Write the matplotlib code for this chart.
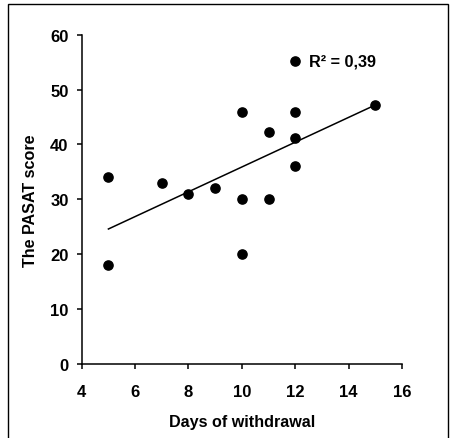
import numpy as np
import matplotlib
matplotlib.use('Agg')
import matplotlib.pyplot as plt
import matplotlib.patches as mpatches

plt.rcParams['font.family'] = ['Liberation Sans', 'DejaVu Sans']
plt.rcParams['font.weight'] = 'bold'

# Data
days = [5, 5, 7, 8, 9, 10, 10, 10, 11, 11, 12, 12, 12, 15]
pasat = [34.1, 18.0, 33.0, 31.0, 32.1, 46.0, 30.1, 20.0, 42.2, 30.1, 46.0, 41.1, 36.1, 47.2]

# regression line as drawn in the figure
fit_x = [5, 15]
fit_y = [24.6, 47.2]
r2_label = 'R² = 0,39'

xticks = [4, 6, 8, 10, 12, 14, 16]
yticks = [0, 10, 20, 30, 40, 50, 60]

fig = plt.figure(figsize=(4.54, 4.39), dpi=100, facecolor='white')
ax = fig.add_axes([0.18, 0.1686, 0.7055, 0.75])

ax.scatter(days, pasat, s=44, c='black', zorder=3, label=r2_label)
ax.plot(fit_x, fit_y, color='black', lw=1.1, zorder=2)

ax.set_xlim(4, 16)
ax.set_ylim(0, 60)
ax.set_xticks(xticks)
ax.set_yticks(yticks)

for side in ['top', 'right']:
    ax.spines[side].set_visible(False)
for side in ['left', 'bottom']:
    ax.spines[side].set_linewidth(1.1)

ax.tick_params(axis='both', direction='out', length=3.5, width=1.1, labelsize=12)
ax.tick_params(axis='x', pad=11)
ax.tick_params(axis='y', pad=6)
for lab in ax.get_xticklabels() + ax.get_yticklabels():
    lab.set_fontweight('bold')

ax.set_xlabel('Days of withdrawal', fontsize=11.6, fontweight='bold', labelpad=11)
ax.set_ylabel('The PASAT score', fontsize=11.6, fontweight='bold', labelpad=9)

leg = ax.legend(loc='center left', bbox_to_anchor=(0.64, 0.92), frameon=False,
                borderpad=0, borderaxespad=0, handlelength=1.0, handletextpad=0.35,
                prop={'size': 11.7, 'weight': 'bold'})

# frame around the whole figure (bottom edge cut off in the original)
border = mpatches.Rectangle((8 / 454, -0.05), (448 - 8) / 454, 1.05 - 5 / 439,
                            transform=fig.transFigure, fill=False,
                            edgecolor='black', lw=1.0)
fig.patches.append(border)

plt.savefig('out.png', dpi=100, facecolor='white')
plt.close()
